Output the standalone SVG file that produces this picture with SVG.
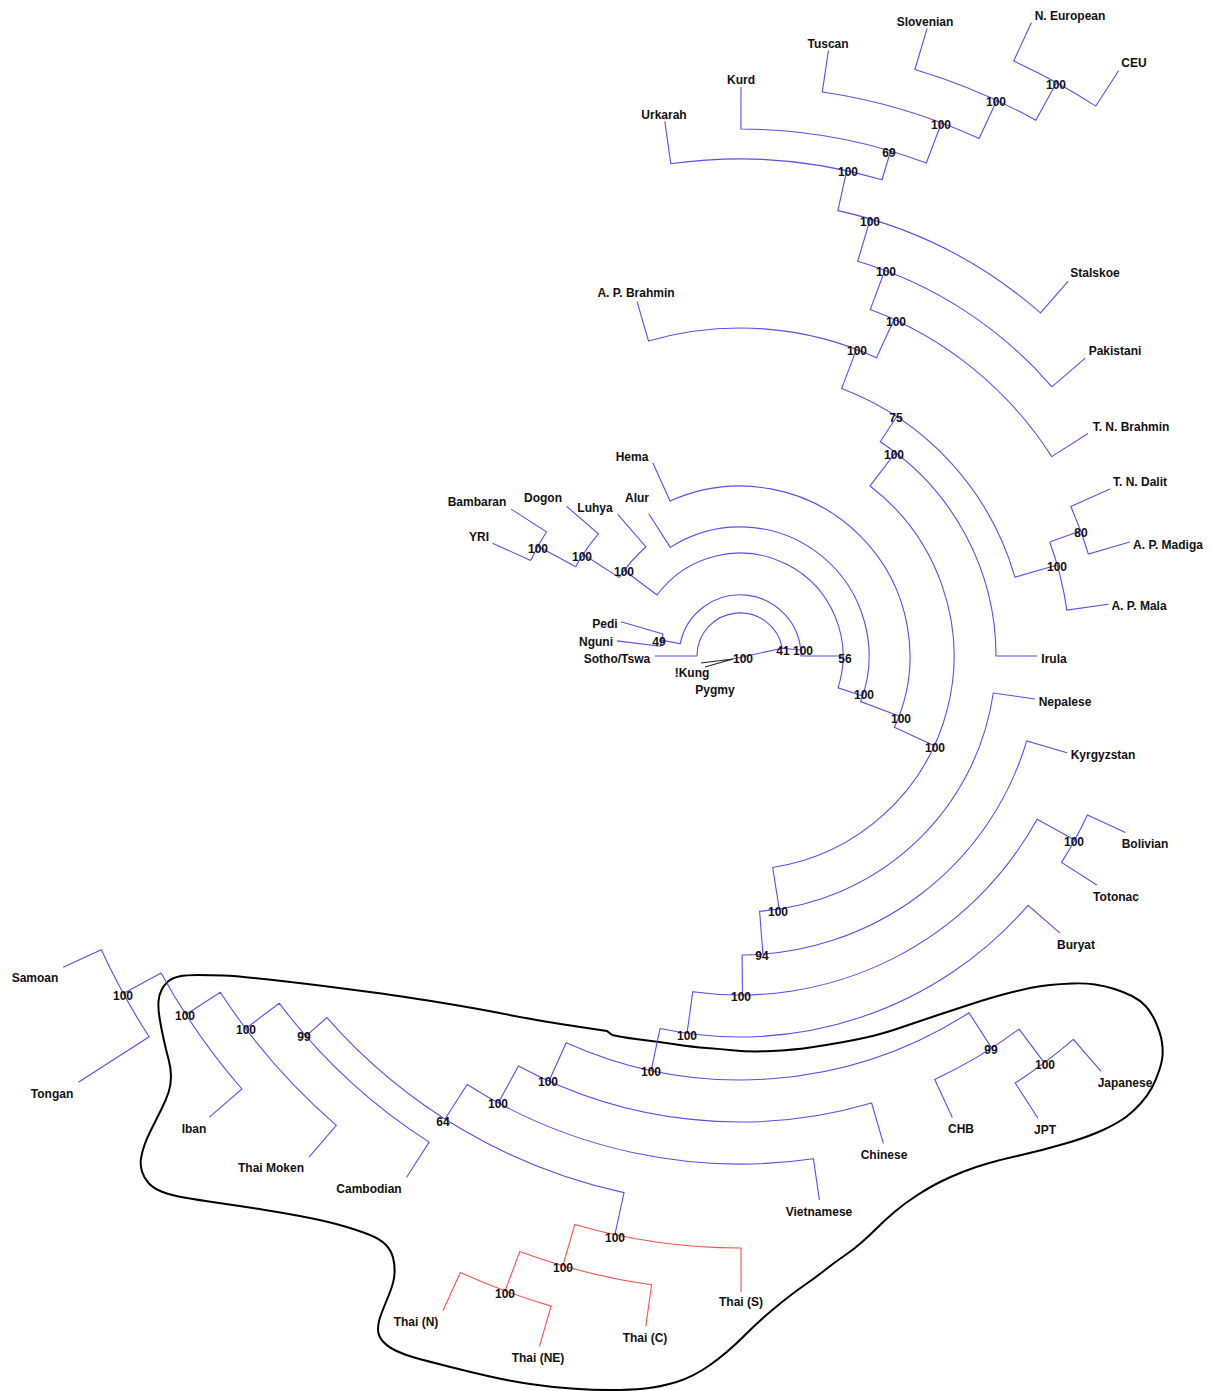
<svg xmlns="http://www.w3.org/2000/svg" width="1210" height="1391" viewBox="0 0 1210 1391">
<style>
.b{fill:none;stroke:#5b4cf5;stroke-width:1.1}
.r{fill:none;stroke:#ff5050;stroke-width:1.1}
.k{fill:none;stroke:#222;stroke-width:1.1}
.o{fill:none;stroke:#000;stroke-width:2;stroke-linejoin:round}
text{font-family:"Liberation Sans",Arial,sans-serif;font-weight:bold;font-size:12px;text-anchor:middle;fill:#111}
</style>
<rect width="1210" height="1391" fill="#fff"/>
<g id="outline">
<path class="o" d="M612,1035 L619.5,1036.5 Q627,1038 643.5,1040 Q660,1042 676.5,1044.5 Q693,1047 706.5,1048 Q720,1049 735,1050.5 Q750,1052 771.5,1051 Q793,1050 810,1047.5 Q827,1045 843.5,1042 Q860,1039 872.5,1036 Q885,1033 902.5,1027 Q920,1021 936.5,1015.5 Q953,1010 971.5,1004 Q990,998 1005,994 Q1020,990 1030,988 Q1040,986 1050,985 Q1060,984 1072.5,983.5 Q1085,983 1095,984.5 Q1105,986 1114.5,989 Q1124,992 1132,996 Q1140,1000 1146,1006.5 Q1152,1013 1156.5,1024 Q1161,1035 1162,1042.5 Q1163,1050 1162.5,1056 Q1162,1062 1159,1071 Q1156,1080 1152,1087.5 Q1148,1095 1141,1103 Q1134,1111 1126,1117 Q1118,1123 1103,1130 Q1088,1137 1065.5,1143.5 Q1043,1150 1021.5,1155 Q1000,1160 987.5,1163.5 Q975,1167 962.5,1172 Q950,1177 940,1182 Q930,1187 917.5,1195 Q905,1203 895,1211.5 Q885,1220 877.5,1227.5 Q870,1235 861.5,1242.5 Q853,1250 844,1256 Q835,1262 825,1270 Q815,1278 804,1285.5 Q793,1293 776.5,1306.5 Q760,1320 743.5,1336.5 Q727,1353 710,1365 Q693,1377 676.5,1382 Q660,1387 645,1388.5 Q630,1390 611.5,1390 Q593,1390 571.5,1388.5 Q550,1387 530,1384 Q510,1381 490,1376.5 Q470,1372 448.5,1366.5 Q427,1361 416,1358 Q405,1355 396.5,1351 Q388,1347 383,1341.5 Q378,1336 378,1329 Q378,1322 382,1312 Q386,1302 390,1292 Q394,1282 394.5,1273.5 Q395,1265 393,1257.5 Q391,1250 385.5,1244.5 Q380,1239 370,1235 Q360,1231 345,1226.5 Q330,1222 310,1218 Q290,1214 265,1210 Q240,1206 219,1203 Q198,1200 184,1197.5 Q170,1195 161.5,1191.5 Q153,1188 148.5,1183 Q144,1178 142,1171.5 Q140,1165 141,1158.5 Q142,1152 144.5,1145 Q147,1138 152,1128 Q157,1118 161.5,1109 Q166,1100 168.5,1092.5 Q171,1085 171,1076.5 Q171,1068 168.5,1059 Q166,1050 163.5,1038.5 Q161,1027 159.5,1017.5 Q158,1008 158.5,1001.5 Q159,995 161.5,990 Q164,985 168,981.5 Q172,978 179,976.5 Q186,975 198,975 Q210,975 223.5,975.5 Q237,976 268.5,979.5 Q300,983 327.5,986.5 Q355,990 377.5,993 Q400,996 437,1002 Q474,1008 502,1013.5 Q530,1019 545,1021.5 Q560,1024 583.5,1027.5 L607,1031 L612,1035"/>
</g>
<g id="connectors">
<path class="b" d="M697,656 A43,43 0 0 1 782.3,648.2 M782.3,648.2 L733,659 M782.3,648.2 L800,650 M680.2,643.8 A61,61 0 0 1 801,656 L843,656 M660.6,646.2 A80,80 0 0 1 663.1,634 M663.1,634 L620.8,621.8 M660.6,646.2 L616.9,640.9 M680.2,643.8 L661.6,640.1 M697,656 L655,656"/>
<path class="k" d="M733,659 L701,663 M733,659 L705,667"/>
<path class="b" d="M656.7,595.5 A103,103 0 0 1 838,687.8 L862.7,695.9 M657,595 L624.2,570.3 M619.2,577.6 A144,144 0 0 1 645.9,547 L617.8,514.4 M619.2,577.6 L583.2,554.2 M575.7,566.8 A187,187 0 0 1 598.4,533.8 L566.6,506.4 M575.7,566.8 L537.9,546.2 M530.7,560.6 A230,230 0 0 1 546.5,531.8 L511.1,509.1 M530.7,560.6 L492.5,543.2"/>
<path class="b" d="M648.7,513.8 L670.3,547.4 A129,129 0 0 1 860.7,701.6 L899,716.1 M652.8,462.8 L670,501.1 A170,170 0 0 1 894.3,727.3 L934.3,745.8 M895.5,452.6 L870,486 A214,214 0 0 1 772.7,867.5 L779.2,909"/>
<path class="b" d="M896.6,416.7 L880.2,441.8 A256,256 0 0 1 996,656 L1037,656 M856.5,349.4 L841.6,388.6 A286,286 0 0 1 1014.9,577.2 L1057.2,565 M1049.7,542 A330,330 0 0 1 1066.8,610.1 L1108.4,604.2 M1049.7,542 L1080.7,530.7 M1110,488.9 L1070.8,506.6 A363,363 0 0 1 1088.4,554.1 L1129.7,542"/>
<path class="b" d="M637.1,301.7 L648.5,341 A328,328 0 0 1 876.5,357.8 L894,319.6 M884.9,270.3 L870.2,309.6 A370,370 0 0 1 1051.7,456.6 L1088,433.5 M870.3,219 L857.7,261.2 A412,412 0 0 1 1051.9,386.8 L1085.2,358.1 M846.7,170.6 L837.9,210.6 A456,456 0 0 1 1040.4,312.9 L1068,281.3 M664.8,121.3 L670.8,163.8 A497,497 0 0 1 882,179.7 L890.6,151 M741,87 L740.9,129 A527,527 0 0 1 926.3,163 L941.5,122.8 M828.4,50.4 L822.3,92 A570,570 0 0 1 979.1,138.6 L996.7,100.4 M927.1,28.3 L914.9,69.5 A612,612 0 0 1 1035.8,120.2 L1056.6,82.5 M1031.3,22.8 L1013.7,61 A655,655 0 0 1 1095.8,106.1 L1118.6,70.8"/>
<path class="b" d="M1034.9,699 L993.3,693 A256,256 0 0 1 759.6,911.3 L762.9,954.1 M1067,752.8 L1026.7,740.9 A299,299 0 0 1 742.1,955 L742.4,995 M1074.7,840 L1037.1,819.3 A339,339 0 0 1 692.8,991.7 L687,1033.3 M1125.5,832.5 L1087.3,815 A382,382 0 0 1 1061.5,862.4 L1096.8,885 M1059.8,932.9 L1028,905.4 A381,381 0 0 1 660.1,1028.5 L651.1,1070.6"/>
<path class="b" d="M991.7,1048.1 L969,1012.8 A424,424 0 0 1 566.2,1042.7 L549,1081 M1044.3,1062.8 L1019.1,1029.1 A466,466 0 0 1 934.7,1079.4 L952.3,1117.5 M1100.9,1071.1 L1073.3,1039.4 A508,508 0 0 1 1015.2,1083 L1037.9,1118.3 M883.4,1143.3 L871.6,1103 A466,466 0 0 1 518.4,1065.9 L498.4,1102.8 M819.4,1200.2 L813.4,1158.7 A508,508 0 0 1 467.1,1084.5 L445,1119 M614.9,1234.6 L624,1192.6 A549,549 0 0 1 326.9,1017.6 L305.9,1036.1 M406.5,1177.5 L429.1,1142.1 A577,577 0 0 1 279.2,1003.2 L245.7,1028.5 M309,1157.1 L336.3,1125.3 A619,619 0 0 1 220.3,992.2 L185.9,1014.5 M209.4,1117.2 L241.9,1089 A660,660 0 0 1 161.1,972.9 L123.4,993.6 M78.4,1082.3 L149.1,1036.8 A703,703 0 0 1 101.3,949.8 L63.2,967.3"/>
<path class="r" d="M741.1,1292 L741,1248 A592,592 0 0 1 574.8,1224.5 L562.8,1265.8 M645.8,1326.4 L651.6,1284.8 A635,635 0 0 1 519.7,1251.6 L505.1,1291 M539.4,1346.5 L551.1,1306.1 A677,677 0 0 1 460.3,1272.5 L443,1310.8"/>
</g>
<g id="leaves">
<g id="n-neur"><text x="1070" y="19.5">N. European</text></g>
<g id="n-slovenian"><text x="925" y="25.5">Slovenian</text></g>
<g id="n-ceu"><text x="1134" y="66.5">CEU</text></g>
<g id="n-tuscan"><text x="828" y="47.5">Tuscan</text></g>
<g id="n-kurd"><text x="741" y="83.5">Kurd</text></g>
<g id="n-urkarah"><text x="664" y="118.5">Urkarah</text></g>
<g id="n-stalskoe"><text x="1095" y="276.5">Stalskoe</text></g>
<g id="n-apbrahmin"><text x="636" y="296.5">A. P. Brahmin</text></g>
<g id="n-pakistani"><text x="1115" y="354.5">Pakistani</text></g>
<g id="n-tnbrahmin"><text x="1131" y="430.5">T. N. Brahmin</text></g>
<g id="n-hema"><text x="632" y="460.5">Hema</text></g>
<g id="n-tndalit"><text x="1140" y="485.5">T. N. Dalit</text></g>
<g id="n-bambaran"><text x="477" y="505.5">Bambaran</text></g>
<g id="n-dogon"><text x="543" y="501.5">Dogon</text></g>
<g id="n-alur"><text x="637" y="501.5">Alur</text></g>
<g id="n-luhya"><text x="595" y="511.5">Luhya</text></g>
<g id="n-yri"><text x="479" y="540.5">YRI</text></g>
<g id="n-apmadiga"><text x="1168" y="548.5">A. P. Madiga</text></g>
<g id="n-apmala"><text x="1139" y="609.5">A. P. Mala</text></g>
<g id="n-pedi"><text x="605" y="627.5">Pedi</text></g>
<g id="n-nguni"><text x="596" y="645.5">Nguni</text></g>
<g id="n-sotho"><text x="617" y="662.5">Sotho/Tswa</text></g>
<g id="n-kung"><text x="692" y="676.5">!Kung</text></g>
<g id="n-pygmy"><text x="715" y="693.5">Pygmy</text></g>
<g id="n-irula"><text x="1054" y="662.5">Irula</text></g>
<g id="n-nepalese"><text x="1065" y="705.5">Nepalese</text></g>
<g id="n-kyrgyzstan"><text x="1103" y="758.5">Kyrgyzstan</text></g>
<g id="n-bolivian"><text x="1145" y="847.5">Bolivian</text></g>
<g id="n-totonac"><text x="1116" y="900.5">Totonac</text></g>
<g id="n-buryat"><text x="1076" y="948.5">Buryat</text></g>
<g id="n-samoan"><text x="35" y="981.5">Samoan</text></g>
<g id="n-tongan"><text x="52" y="1097.5">Tongan</text></g>
<g id="n-japanese"><text x="1125" y="1086.5">Japanese</text></g>
<g id="n-iban"><text x="194" y="1132.5">Iban</text></g>
<g id="n-chb"><text x="961" y="1132.5">CHB</text></g>
<g id="n-jpt"><text x="1045" y="1133.5">JPT</text></g>
<g id="n-chinese"><text x="884" y="1158.5">Chinese</text></g>
<g id="n-thaimoken"><text x="271" y="1171.5">Thai Moken</text></g>
<g id="n-cambodian"><text x="369" y="1192.5">Cambodian</text></g>
<g id="n-vietnamese"><text x="819" y="1215.5">Vietnamese</text></g>
<g id="n-thais"><text x="741" y="1305.5">Thai (S)</text></g>
<g id="n-thain"><text x="416" y="1325.5">Thai (N)</text></g>
<g id="n-thaic"><text x="645" y="1341.5">Thai (C)</text></g>
<g id="n-thaine"><text x="538" y="1361.5">Thai (NE)</text></g>
</g>
<g id="bootstrap">
<g id="b1"><text x="1056" y="88.5">100</text></g>
<g id="b2"><text x="996" y="105.5">100</text></g>
<g id="b3"><text x="941" y="128.5">100</text></g>
<g id="b4"><text x="889" y="156.5">69</text></g>
<g id="b5"><text x="848" y="175.5">100</text></g>
<g id="b6"><text x="870" y="225.5">100</text></g>
<g id="b7"><text x="886" y="275.5">100</text></g>
<g id="b8"><text x="896" y="325.5">100</text></g>
<g id="b9"><text x="857" y="354.5">100</text></g>
<g id="b10"><text x="896" y="421.5">75</text></g>
<g id="b11"><text x="894" y="458.5">100</text></g>
<g id="b12"><text x="1081" y="536.5">80</text></g>
<g id="b13"><text x="1057" y="570.5">100</text></g>
<g id="b14"><text x="538" y="552.5">100</text></g>
<g id="b15"><text x="582" y="560.5">100</text></g>
<g id="b16"><text x="624" y="575.5">100</text></g>
<g id="b17"><text x="659" y="645.5">49</text></g>
<g id="b18"><text x="743" y="662.5">100</text></g>
<g id="b19"><text x="783" y="654.5">41</text></g>
<g id="b20"><text x="803" y="654.5">100</text></g>
<g id="b21"><text x="845" y="662.5">56</text></g>
<g id="b22"><text x="864" y="698.5">100</text></g>
<g id="b23"><text x="901" y="722.5">100</text></g>
<g id="b24"><text x="935" y="751.5">100</text></g>
<g id="b25"><text x="1074" y="845.5">100</text></g>
<g id="b26"><text x="778" y="915.5">100</text></g>
<g id="b27"><text x="762" y="959.5">94</text></g>
<g id="b28"><text x="741" y="1000.5">100</text></g>
<g id="b29"><text x="687" y="1039.5">100</text></g>
<g id="b30"><text x="651" y="1075.5">100</text></g>
<g id="b31"><text x="123" y="999.5">100</text></g>
<g id="b32"><text x="185" y="1019.5">100</text></g>
<g id="b33"><text x="246" y="1033.5">100</text></g>
<g id="b34"><text x="304" y="1040.5">99</text></g>
<g id="b35"><text x="443" y="1125.5">64</text></g>
<g id="b36"><text x="548" y="1085.5">100</text></g>
<g id="b37"><text x="498" y="1107.5">100</text></g>
<g id="b38"><text x="991" y="1053.5">99</text></g>
<g id="b39"><text x="1045" y="1068.5">100</text></g>
<g id="b40"><text x="615" y="1241.5">100</text></g>
<g id="b41"><text x="563" y="1271.5">100</text></g>
<g id="b42"><text x="505" y="1297.5">100</text></g>
</g>
</svg>
